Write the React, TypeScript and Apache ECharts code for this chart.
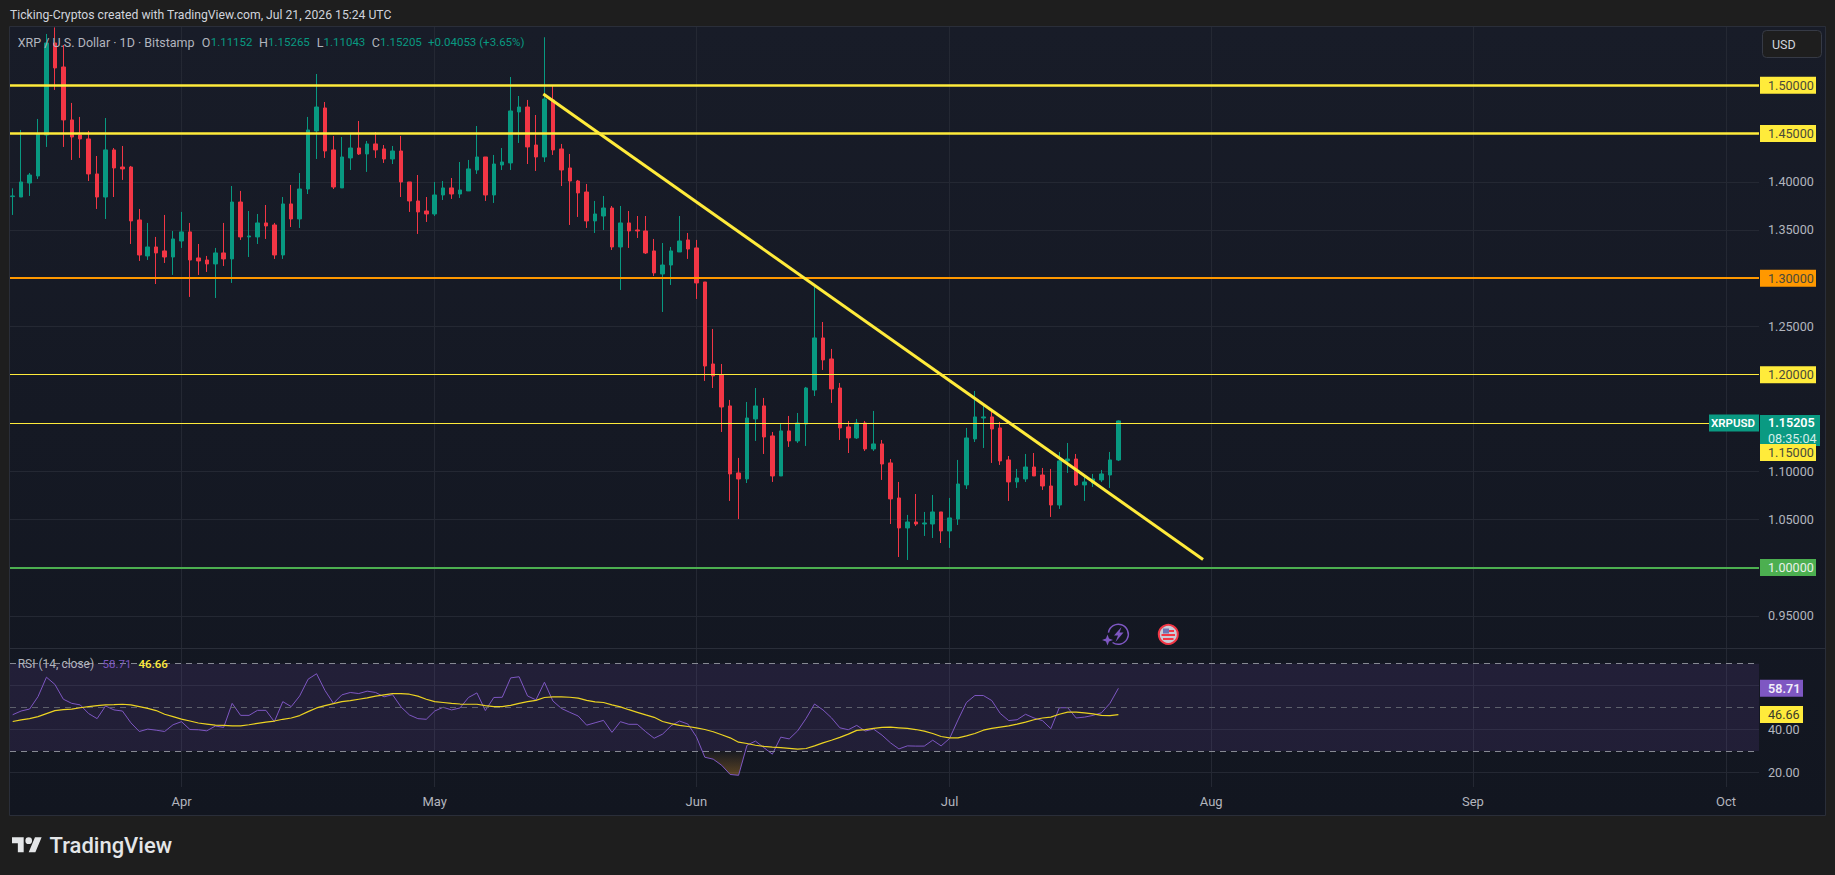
import React, { useEffect, useRef } from "react";
import * as echarts from "echarts";

const opens = [
  1.3846,1.3842,1.3987,1.4060,1.4485,1.5439,1.5190,1.4641,1.4485,1.4444,
  1.4081,1.3842,1.4330,1.4153,1.4153,1.3604,1.3231,1.3324,1.3283,1.3220,
  1.3386,1.3480,1.3210,1.3189,1.3148,1.3262,1.3200,1.3790,1.3428,1.3428,
  1.3573,1.3552,1.3241,1.3770,1.3614,1.3925,1.4527,1.4765,1.4330,1.3936,
  1.4247,1.4350,1.4288,1.4392,1.4340,1.4236,1.4319,1.3998,1.3801,1.3697,
  1.3666,1.3863,1.3936,1.3873,1.3905,1.4122,1.4257,1.3863,1.4174,1.4195,
  1.4724,1.4775,1.4381,1.4257,1.4848,1.4340,1.4143,1.4008,1.3894,1.3594,
  1.3645,1.3728,1.3324,1.3573,1.3500,1.3490,1.3283,1.3044,1.3137,1.3272,
  1.3397,1.3314,1.2961,1.2111,1.1997,1.1676,1.0981,1.0919,1.1541,1.1676,
  1.1365,1.0950,1.1417,1.1313,1.1489,1.1841,1.2381,1.2163,1.1862,1.1458,
  1.1344,1.1499,1.1230,1.1282,1.1085,1.0722,1.0411,1.0473,1.0452,1.0452,
  1.0577,1.0380,1.0504,1.0857,1.1334,1.1551,1.1562,1.1448,1.1116,1.0888,
  1.0919,1.1043,1.0960,1.0846,1.0649,1.1106,1.1126,1.0857,1.0877,1.0909,
  1.0960,1.11152,
];
const highs = [
  1.3932,1.4537,1.4091,1.4651,1.5532,1.5600,1.5418,1.4817,1.4672,1.4527,
  1.4267,1.4661,1.4350,1.4371,1.4164,1.3718,1.3573,1.3428,1.3656,1.3490,
  1.3687,1.3573,1.3355,1.3231,1.3314,1.3573,1.3956,1.3905,1.3697,1.3666,
  1.3759,1.3573,1.3842,1.3967,1.4091,1.4672,1.5117,1.4827,1.4475,1.4464,
  1.4495,1.4630,1.4423,1.4516,1.4381,1.4371,1.4475,1.3998,1.4070,1.3842,
  1.3998,1.4008,1.4039,1.4205,1.4226,1.4578,1.4257,1.4278,1.4350,1.5086,
  1.4889,1.4848,1.4692,1.5498,1.5003,1.4392,1.4288,1.4019,1.3977,1.3801,
  1.3853,1.3749,1.3749,1.3697,1.3645,1.3645,1.3407,1.3365,1.3324,1.3645,
  1.3469,1.3397,1.2961,1.2474,1.2111,1.1738,1.1137,1.1717,1.1862,1.1759,
  1.1406,1.1489,1.1572,1.1603,1.1873,1.2930,1.2546,1.2267,1.1914,1.1520,
  1.1541,1.1520,1.1624,1.1323,1.1126,1.0888,1.0546,1.0763,1.0577,1.0753,
  1.0577,1.0722,1.1116,1.1448,1.1831,1.1686,1.1634,1.1510,1.1157,1.1023,
  1.1178,1.1188,1.1033,1.1023,1.1199,1.1292,1.1178,1.0950,1.0971,1.1012,
  1.1199,1.15265,
];
const lows = [
  1.3656,1.3842,1.3853,1.4029,1.4361,1.4952,1.4361,1.4226,1.4247,1.4008,
  1.3718,1.3614,1.3842,1.4019,1.3355,1.3179,1.3189,1.2940,1.3158,1.3034,
  1.3314,1.2806,1.3034,1.3065,1.2795,1.3127,1.2951,1.3397,1.3220,1.3355,
  1.3407,1.3200,1.3200,1.3531,1.3521,1.3873,1.4236,1.4247,1.3925,1.3936,
  1.4122,1.4278,1.4102,1.4247,1.4195,1.4184,1.3842,1.3687,1.3459,1.3583,
  1.3645,1.3811,1.3822,1.3832,1.3905,1.4081,1.3801,1.3780,1.4122,1.4122,
  1.4402,1.4184,1.4112,1.4205,1.4278,1.3956,1.3552,1.3635,1.3521,1.3469,
  1.3500,1.3293,1.2878,1.3314,1.3417,1.3251,1.3023,1.2650,1.2930,1.3272,
  1.3200,1.2785,1.1935,1.1862,1.1406,1.0691,1.0504,1.0877,1.1313,1.1178,
  1.0888,1.0950,1.1251,1.1292,1.1261,1.1779,1.2049,1.1707,1.1323,1.1188,
  1.1334,1.1209,1.1209,1.0909,1.0452,1.0110,1.0079,1.0432,1.0328,1.0307,
  1.0255,1.0204,1.0442,1.0815,1.1302,1.1240,1.1085,1.1064,1.0691,1.0826,
  1.0888,1.0950,1.0805,1.0525,1.0608,1.0981,1.0846,1.0691,1.0836,1.0888,
  1.0826,1.11043,
];
const closes = [
  1.3853,1.3998,1.4070,1.4495,1.5439,1.5180,1.4641,1.4464,1.4444,1.4081,
  1.3842,1.4330,1.4143,1.4133,1.3594,1.3241,1.3324,1.3262,1.3220,1.3407,
  1.3480,1.3189,1.3179,1.3148,1.3262,1.3200,1.3790,1.3428,1.3438,1.3573,
  1.3542,1.3241,1.3770,1.3614,1.3925,1.4537,1.4775,1.4319,1.3946,1.4257,
  1.4350,1.4288,1.4392,1.4330,1.4236,1.4319,1.3998,1.3801,1.3687,1.3666,
  1.3863,1.3936,1.3873,1.3915,1.4133,1.4257,1.3863,1.4184,1.4205,1.4734,
  1.4775,1.4361,1.4257,1.4858,1.4330,1.4122,1.4008,1.3884,1.3594,1.3666,
  1.3728,1.3324,1.3573,1.3490,1.3490,1.3262,1.3055,1.3137,1.3283,1.3386,
  1.3303,1.2951,1.2090,1.1987,1.1665,1.0971,1.0919,1.1551,1.1676,1.1354,
  1.0950,1.1417,1.1313,1.1499,1.1862,1.2381,1.2153,1.1852,1.1448,1.1344,
  1.1499,1.1230,1.1282,1.1074,1.0712,1.0411,1.0473,1.0452,1.0463,1.0577,
  1.0380,1.0515,1.0867,1.1344,1.1562,1.1562,1.1437,1.1106,1.0888,1.0929,
  1.1043,1.0950,1.0846,1.0649,1.1106,1.1126,1.0857,1.0888,1.0919,1.0971,
  1.1116,1.15205,
];
const rsiValues = [
  46.6,48.3,49.2,54.9,63.8,60.5,53.7,51.8,51.1,47.1,
  44.8,50.6,48.8,48.3,42.9,38.9,40.0,39.5,38.9,42.0,
  43.4,39.8,39.7,39.2,41.4,40.8,51.8,46.3,46.3,48.6,
  48.6,43.4,52.6,50.3,55.2,62.9,65.4,57.7,51.8,55.7,
  56.8,56.3,57.4,56.8,54.8,55.8,50.2,46.5,44.8,44.5,
  48.3,50.0,48.8,49.7,54.5,56.6,48.5,54.5,54.6,63.5,
  64.0,55.2,53.4,61.5,52.9,49.5,47.7,46.0,41.8,42.9,
  44.0,38.5,43.4,42.2,42.2,38.8,35.8,37.7,41.5,43.7,
  42.3,36.5,27.1,26.2,23.4,19.2,18.8,32.6,34.5,31.5,
  28.5,36.3,35.5,39.2,44.9,51.5,48.8,45.2,40.6,39.7,
  41.7,39.1,40.0,37.2,33.7,30.9,32.3,32.2,32.2,34.9,
  32.3,35.7,44.2,52.2,55.4,55.4,53.1,47.2,43.9,44.3,
  46.8,45.1,43.9,40.2,49.8,49.8,45.1,45.5,46.3,47.5,
  51.8,58.71,
];
const rsiAverage = [
  43.5,44.2,44.8,45.7,47.1,48.5,48.9,49.2,49.8,50.3,
  50.8,51.1,51.2,51.4,51.1,50.3,49.5,48.5,46.8,45.7,
  44.6,43.7,42.8,42.3,41.8,41.7,41.5,41.5,42.0,42.6,
  43.2,43.7,44.5,45.1,46.2,48.0,49.7,50.8,51.7,52.6,
  53.1,53.7,54.3,55.1,55.7,56.3,56.3,56.0,55.1,53.7,
  52.6,52.2,51.8,51.5,51.4,51.4,50.8,50.3,50.3,50.9,
  51.8,52.6,53.2,54.5,54.8,54.8,54.6,54.2,53.2,52.5,
  52.2,51.1,50.2,48.9,47.7,46.5,45.4,43.5,42.5,41.7,
  41.2,40.6,39.8,38.8,37.4,36.0,34.0,33.4,32.6,32.1,
  31.7,31.5,31.2,30.8,31.1,32.3,33.7,34.9,36.2,37.7,
  39.4,39.8,40.3,40.8,40.9,40.6,40.3,39.8,39.1,38.0,
  36.6,36.0,36.0,36.9,38.0,39.5,40.3,40.9,41.5,42.3,
  43.2,44.3,45.1,45.5,46.8,47.8,47.8,47.4,47.0,46.3,
  46.2,46.66,
];

// Index of the first of each month, counted from the first candle (12 March).
const monthTicks = [20, 50, 81, 111, 142, 173, 203];
const monthNames = ["Apr", "May", "Jun", "Jul", "Aug", "Sep", "Oct"];
const priceTicks = [0.95, 1.0, 1.05, 1.1, 1.15, 1.2, 1.25, 1.3, 1.35, 1.4, 1.45, 1.5];
const priceAxisLabels = [0.95, 1.05, 1.1, 1.25, 1.35, 1.4];
const rsiTicks = [20, 40, 60];
const rsiAxisLabels = [20, 40];
const rsiBands = [70, 50, 30];
const trendline = [[62.87, 1.49098], [141.03, 1.0085]];
const lastPrice = 1.15205;
const countdown = "08:35:04";
const lastRsi = 58.71;
const lastRsiAverage = 46.66;
const oversoldFrom = 81.7;
const oversoldTo = 86.8;

const FONT = "Roboto, 'Noto Sans', sans-serif";
const GRID_LINE = "#242833";
const AXIS_TEXT = "#b2b5be";
const UP = "#089981";
const DOWN = "#f23645";
const YELLOW = "#ffeb3b";
const ORANGE = "#ff9800";
const LEVEL_GREEN = "#4caf50";
const HIDDEN_LINE = { color: "rgba(0,0,0,0)", width: 0 };

const priceLevel = (value: number, color: string, width: number, textColor: string, offset = 0) => ({
  yAxis: value,
  lineStyle: { color, width, type: "solid", opacity: 1 },
  label: {
    show: true,
    position: "end",
    distance: 1,
    offset: [0, offset],
    formatter: value.toFixed(5),
    color: textColor,
    backgroundColor: color,
    fontFamily: FONT,
    fontSize: 12.6,
    width: 48,
    height: 17,
    lineHeight: 17,
    padding: [0, 0, 0, 8],
  },
});

const tvGlyph =
  "M14 22H7V11H0V4h14v18zM28 22h-8l7.5-18h8L28 22zM24 8a4 4 0 1 1-8 0a4 4 0 1 1 8 0z";

function buildOption() {
  const candles = opens.map((o, i) => [i, o, closes[i], lows[i], highs[i]]);
  const rsiLine = rsiValues.map((v, i) => [i, v]);
  const rsiAvgLine = rsiAverage.map((v, i) => [i, v]);
  const oversold = [
    [oversoldFrom, 30],
    ...rsiLine.filter(([i]) => i > oversoldFrom && i < oversoldTo),
    [oversoldTo, 30],
  ];

  const text = (t: string, x: number, y: number, fill: string, size = 11.5, weight = 400) => ({
    type: "text",
    z: 50,
    silent: true,
    style: {
      text: t,
      x,
      y,
      fill,
      fontFamily: FONT,
      fontSize: size,
      fontWeight: weight,
      verticalAlign: "middle",
    },
  });

  const legendGrey = "#b2b5be";
  const graphic = [
    {
      type: "rect", z: -10, silent: true,
      shape: { x: 9.5, y: 26.5, width: 1816, height: 789 },
      style: {
        stroke: "#2a2e39", lineWidth: 1,
        fill: new echarts.graphic.LinearGradient(0, 0, 0, 1, [
          { offset: 0, color: "#181c28" },
          { offset: 1, color: "#121620" },
        ]),
      },
    },
    { type: "line", z: -9, silent: true, shape: { x1: 10, y1: 648.5, x2: 1825, y2: 648.5 }, style: { stroke: "#2a2e39", lineWidth: 1 } },
    text("Ticking-Cryptos created with TradingView.com, Jul 21, 2026 15:24 UTC", 10, 14.5, "#d1d4dc", 12.2),
    text("XRP / U.S. Dollar · 1D · Bitstamp", 17.7, 42, legendGrey, 12.5),
    text("O", 201.7, 42, legendGrey, 12.5),
    text("1.11152", 210.7, 42, UP),
    text("H", 259, 42, legendGrey, 12.5),
    text("1.15265", 268, 42, UP),
    text("L", 316.7, 42, legendGrey, 12.5),
    text("1.11043", 323.5, 42, UP),
    text("C", 371.7, 42, legendGrey, 12.5),
    text("1.15205", 380, 42, UP),
    text("+0.04053 (+3.65%)", 428, 42, UP),
    text("RSI (14, close)", 17.7, 664, legendGrey, 12),
    text("58.71", 102.6, 664, "#7e57c2"),
    text("46.66", 138.5, 664, YELLOW, 11.5, 500),
    {
      type: "rect", z: 40, silent: true,
      shape: { x: 1762.5, y: 30.5, width: 59, height: 27, r: 4 },
      style: { fill: "#1e1e1e", stroke: "#363a45", lineWidth: 1 },
    },
    text("USD", 1772, 44.5, "#d1d4dc", 12.5),
    // Lightning marker
    {
      type: "arc", z: 40, silent: true,
      shape: { cx: 1118.3, cy: 634.3, r: 10, startAngle: (190 * Math.PI) / 180, endAngle: (485 * Math.PI) / 180, clockwise: true },
      style: { stroke: "#7e57c2", lineWidth: 1.5, fill: "none" },
    },
    {
      type: "polygon", z: 40, silent: true,
      shape: { points: [[1121.5, 627], [1114, 635.5], [1118, 635.5], [1115.5, 642], [1123.5, 632.5], [1119.5, 632.5]] },
      style: { fill: "#7e57c2" },
    },
    {
      type: "polygon", z: 40, silent: true,
      shape: { points: [[1107.5, 634.5], [1109, 638.5], [1113, 640], [1109, 641.5], [1107.5, 645.5], [1106, 641.5], [1102, 640], [1106, 638.5]] },
      style: { fill: "#7e57c2" },
    },
    // Flag marker
    { type: "circle", z: 40, silent: true, shape: { cx: 1168.3, cy: 634.3, r: 9.5 }, style: { fill: "#c9cad6", stroke: DOWN, lineWidth: 2 } },
    { type: "rect", z: 41, silent: true, shape: { x: 1163, y: 628.5, width: 6, height: 5 }, style: { fill: "#6f74b4" } },
    { type: "rect", z: 41, silent: true, shape: { x: 1169, y: 630, width: 5, height: 2 }, style: { fill: DOWN } },
    { type: "rect", z: 41, silent: true, shape: { x: 1161.5, y: 634, width: 13.5, height: 2 }, style: { fill: DOWN } },
    { type: "rect", z: 41, silent: true, shape: { x: 1163, y: 638, width: 10.5, height: 2 }, style: { fill: DOWN } },
    // Brand
    {
      type: "tvGlyph", z: 40, silent: true, x: 12, y: 834, scaleX: 0.835, scaleY: 0.835,
      style: { fill: "#e4e6e8" },
    },
    text("TradingView", 49.5, 845, "#e4e6e8", 22, 500),
  ];

  return {
    animation: false,
    backgroundColor: "#1e1e1e",
    textStyle: { fontFamily: FONT },
    grid: [
      { left: 10, right: 76, top: 27, height: 621 },
      { left: 10, right: 76, top: 649, height: 138 },
    ],
    xAxis: [
      {
        type: "value", gridIndex: 0, min: -0.32, max: 206.9,
        axisLine: { show: false },
        axisLabel: { show: false },
        axisTick: { show: false, customValues: monthTicks },
        splitLine: { show: true, lineStyle: { color: GRID_LINE, width: 1 } },
      },
      {
        type: "value", gridIndex: 1, min: -0.32, max: 206.9,
        axisLine: { show: false },
        axisTick: { show: false, customValues: monthTicks },
        axisLabel: {
          color: AXIS_TEXT, fontSize: 13, margin: 8, fontFamily: FONT,
          customValues: monthTicks,
          formatter: (v: number) => monthNames[monthTicks.indexOf(v)] ?? "",
        },
        splitLine: { show: true, lineStyle: { color: GRID_LINE, width: 1 } },
      },
    ],
    yAxis: [
      {
        type: "value", gridIndex: 0, position: "right", min: 0.91665, max: 1.56044,
        axisLine: { show: false },
        axisTick: { show: false, customValues: priceTicks },
        axisLabel: {
          color: AXIS_TEXT, fontSize: 12.6, margin: 9, fontFamily: FONT,
          customValues: priceAxisLabels,
          formatter: (v: number) => v.toFixed(5),
        },
        splitLine: { show: true, lineStyle: { color: GRID_LINE, width: 1 } },
      },
      {
        type: "value", gridIndex: 1, position: "right", min: 13.44, max: 76.74,
        axisLine: { show: false },
        axisTick: { show: false, customValues: rsiTicks },
        axisLabel: {
          color: AXIS_TEXT, fontSize: 12.6, margin: 9, fontFamily: FONT,
          customValues: rsiAxisLabels,
          formatter: (v: number) => v.toFixed(2),
        },
        splitLine: { show: true, lineStyle: { color: GRID_LINE, width: 1 } },
      },
    ],
    graphic,
    series: [
      {
        name: "XRPUSD",
        type: "candlestick",
        xAxisIndex: 0,
        yAxisIndex: 0,
        z: 2,
        barWidth: 4,
        data: candles,
        itemStyle: { color: UP, color0: DOWN, borderColor: UP, borderColor0: DOWN, borderWidth: 1 },
      },
      {
        name: "Levels",
        type: "line",
        xAxisIndex: 0,
        yAxisIndex: 0,
        z: 5,
        data: trendline,
        showSymbol: false,
        lineStyle: { color: "#ffeb3b", width: 3 },
        markLine: {
          silent: true,
          symbol: "none",
          animation: false,
          data: [
            {
              yAxis: lastPrice,
              lineStyle: { color: "#12b59a", width: 1, type: [2, 3] },
              label: {
                show: true, position: "insideEnd", distance: 0,
                formatter: "XRPUSD",
                color: "#ffffff", fontWeight: 600, fontSize: 11.5, fontFamily: FONT,
                backgroundColor: "#0a9a82", width: 42, height: 17, lineHeight: 17, padding: [0, 4, 0, 4],
              },
            },
            {
              yAxis: lastPrice,
              lineStyle: HIDDEN_LINE,
              label: {
                show: true, position: "end", distance: 1, offset: [0, 7.5],
                formatter: `{a|${lastPrice.toFixed(5)}}\n{b|${countdown}}`,
                backgroundColor: "#0a9a82", width: 52, padding: [0, 0, 0, 8],
                rich: {
                  a: { color: "#ffffff", fontWeight: 600, fontSize: 12.6, lineHeight: 15.5, fontFamily: FONT },
                  b: { color: "#d5efe9", fontSize: 12.6, lineHeight: 15.5, fontFamily: FONT },
                },
              },
            },
            priceLevel(1.5, YELLOW, 2.5, "#4a4a3a"),
            priceLevel(1.45, YELLOW, 2.5, "#4a4a3a"),
            priceLevel(1.3, ORANGE, 2, "#4a4a3a"),
            priceLevel(1.2, YELLOW, 1, "#4a4a3a"),
            priceLevel(1.15, YELLOW, 1, "#4a4a3a", 29.5),
            priceLevel(1.0, LEVEL_GREEN, 2, "#e8f0e8"),
          ],
        },
      },
      {
        name: "RSI",
        type: "line",
        xAxisIndex: 1,
        yAxisIndex: 1,
        z: 4,
        data: rsiLine,
        showSymbol: false,
        lineStyle: { color: "#7e57c2", width: 1 },
        markArea: {
          silent: true,
          animation: false,
          itemStyle: { color: "rgba(126,87,194,0.14)" },
          data: [[{ yAxis: rsiBands[0] }, { yAxis: rsiBands[2] }]],
        },
        markLine: {
          silent: true,
          symbol: "none",
          animation: false,
          label: { show: false },
          data: [
            ...rsiBands.map((v) => ({
              yAxis: v,
              lineStyle: { color: v === 50 ? "#5d606b" : "#868993", width: 1, type: [6, 5] },
              label: { show: false },
            })),
            {
              yAxis: lastRsi,
              lineStyle: HIDDEN_LINE,
              label: {
                show: true, position: "end", distance: 1,
                formatter: lastRsi.toFixed(2),
                color: "#f2eefa", fontWeight: 600, fontSize: 12.6, fontFamily: FONT,
                backgroundColor: "#7e57c2", width: 35, height: 17, lineHeight: 17, padding: [0, 0, 0, 8],
              },
            },
            {
              yAxis: lastRsiAverage,
              lineStyle: HIDDEN_LINE,
              label: {
                show: true, position: "end", distance: 1,
                formatter: lastRsiAverage.toFixed(2),
                color: "#3a3a2a", fontSize: 12.6, fontFamily: FONT,
                backgroundColor: YELLOW, width: 35, height: 17, lineHeight: 17, padding: [0, 0, 0, 8],
              },
            },
          ],
        },
      },
      {
        name: "RSI average",
        type: "line",
        xAxisIndex: 1,
        yAxisIndex: 1,
        z: 5,
        data: rsiAvgLine,
        showSymbol: false,
        lineStyle: { color: "#ecd322", width: 1.2 },
      },
      {
        name: "Oversold",
        type: "line",
        xAxisIndex: 1,
        yAxisIndex: 1,
        z: 3,
        data: oversold,
        showSymbol: false,
        lineStyle: { width: 0, opacity: 0 },
        areaStyle: {
          origin: 30,
          color: new echarts.graphic.LinearGradient(0, 0, 0, 1, [
            { offset: 0, color: "rgba(190,130,40,0.04)" },
            { offset: 1, color: "rgba(190,130,40,0.6)" },
          ]),
        },
      },
    ],
  };
}

export default function App() {
  const ref = useRef<HTMLDivElement>(null);
  useEffect(() => {
    document.body.style.margin = "0";
    document.body.style.background = "#1e1e1e";
    echarts.graphic.registerShape("tvGlyph", echarts.graphic.extendPath(tvGlyph, {}) as any);
    const chart = echarts.init(ref.current!, null, { renderer: "svg" });
    chart.setOption(buildOption() as any);
    return () => chart.dispose();
  }, []);
  return <div ref={ref} style={{ width: 1835, height: 875 }} />;
}
